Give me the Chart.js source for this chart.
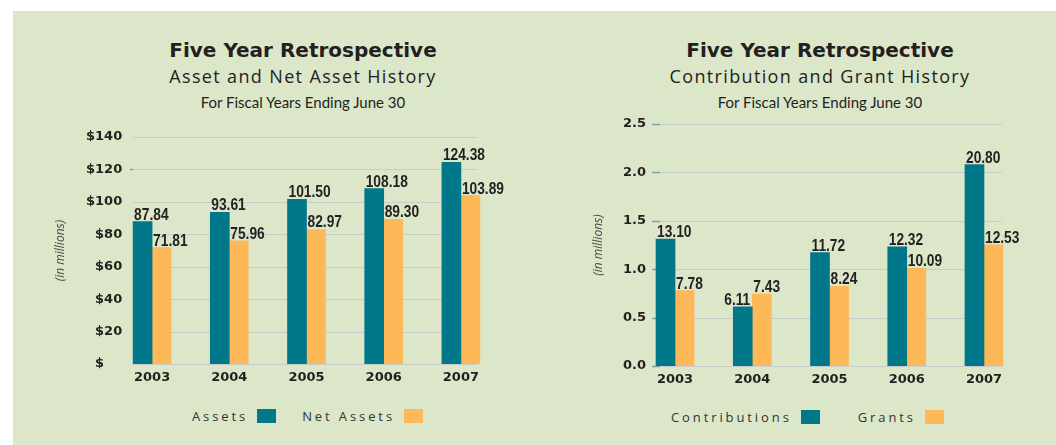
<!DOCTYPE html>
<html>
<head>
<meta charset="utf-8">
<script src="https://cdn.jsdelivr.net/npm/chart.js@4.4.1/dist/chart.umd.min.js"></script>
<style>
  html, body { margin: 0; padding: 0; width: 1056px; height: 445px; overflow: hidden; background: #fff; }
  #panel { position: absolute; left: 13px; top: 11px; right: 0; bottom: 0; background: #dce6c9; }
  .ttl { position: absolute; width: 420px; text-align: center; white-space: nowrap; color: #231f20; line-height: 1; }
  .t1 { font-family: "DejaVu Sans", sans-serif; font-weight: bold; font-size: 20px; }
  .t2 { font-family: "Open Sans", sans-serif; font-weight: 400; font-size: 18px; letter-spacing: 1.35px; }
  .t3 { font-family: Lato, sans-serif; font-weight: 400; font-size: 15px; }
  canvas { position: absolute; }
  .legend { position: absolute; display: flex; align-items: center; font-family: "Open Sans", sans-serif; font-size: 13px; letter-spacing: 2.9px; color: #333; white-space: nowrap; }
  .legend .sw { display: inline-block; width: 19px; height: 14px; margin-left: 9px; }
</style>
</head>
<body>
<div id="panel"></div>

<div class="ttl t1" style="left:93px; top:40px">Five Year Retrospective</div>
<div class="ttl t2" style="left:93px; top:67px">Asset and Net Asset History</div>
<div class="ttl t3" style="left:93px; top:95px">For Fiscal Years Ending June 30</div>

<div class="ttl t1" style="left:610px; top:40px">Five Year Retrospective</div>
<div class="ttl t2" style="left:610px; top:67px">Contribution and Grant History</div>
<div class="ttl t3" style="left:610px; top:95px">For Fiscal Years Ending June 30</div>

<canvas id="assetChart" width="480" height="277" style="left:40px; top:115px"></canvas>
<canvas id="grantChart" width="490" height="294" style="left:560px; top:100px"></canvas>

<div class="legend" id="assetLegend" style="left:192px; top:407px"></div>
<div class="legend" id="grantLegend" style="left:671px; top:408px"></div>

<script>
// --- data ---
const years = ['2003', '2004', '2005', '2006', '2007'];

const assets = [87.84, 93.61, 101.50, 108.18, 124.38];
const netAssets = [71.81, 75.96, 82.97, 89.30, 103.89];
const assetTickLabels = ['$', '$20', '$40', '$60', '$80', '$100', '$120', '$140'];

// bars on this chart are drawn on a 0 - 2.5 axis (labels are value / 10)
const contributions = [13.10, 6.11, 11.72, 12.32, 20.80];
const grants = [7.78, 7.43, 8.24, 10.09, 12.53];
const grantTickLabels = ['0.0', '0.5', '1.0', '1.5', '2.0', '2.5'];

const TEAL = '#00788a';
const ORANGE = '#fdb858';
const INK = '#231f20';
const FIG = '\u2007'; // figure space, same advance as a digit

// right-align tick text with figure spaces (labels are drawn mirrored, left aligned)
function padTick(t, width) {
  if (t.length === 1) t = t + FIG + FIG;
  return t.padStart(width, FIG);
}

/**
 * Draws the horizontal rules only across the inner part of the plot,
 * plus the short teal stubs at the left of some of them
 */
const shortGridPlugin = {
  id: 'shortGrid',
  beforeDatasetsDraw(chart, args, opts) {
    const { ctx } = chart;
    const y = chart.scales.y;
    ctx.save();
    y.ticks.forEach(t => {
      const py = Math.round(y.getPixelForValue(t.value)) + 0.5;
      ctx.strokeStyle = opts.color;
      ctx.lineWidth = 1;
      ctx.beginPath();
      ctx.moveTo(opts.from, py);
      ctx.lineTo(opts.to, py);
      ctx.stroke();
      if (opts.stubs.includes(t.value)) {
        ctx.strokeStyle = opts.stubColor;
        ctx.lineWidth = 1.5;
        ctx.beginPath();
        ctx.moveTo(opts.stubFrom, py);
        ctx.lineTo(opts.from, py);
        ctx.stroke();
      }
    });
    ctx.restore();
  }
};

/**
 * Value labels sitting on top of each bar, condensed bold
 */
const valueLabelPlugin = {
  id: 'valueLabels',
  afterDatasetsDraw(chart, args, opts) {
    const { ctx } = chart;
    const ds = chart.data.datasets;
    ctx.save();
    ctx.font = 'bold 16px "Liberation Sans", Arial, sans-serif';
    ctx.fillStyle = INK;
    ctx.textBaseline = 'alphabetic';
    ds.forEach((set, di) => {
      chart.getDatasetMeta(di).data.forEach((bar, i) => {
        const text = set.labels[i];
        const w = ctx.measureText(text).width * opts.squeeze;
        let x = bar.x - bar.width / 2 + 1;
        // first bar shorter than its neighbour: push its label left so both fit
        if (di === 0 && ds[0].data[i] < ds[1].data[i]) x = bar.x + bar.width / 2 - w - 2;
        ctx.save();
        ctx.translate(x, bar.y - 2);
        ctx.scale(opts.squeeze, 1);
        ctx.fillText(text, 0, 0);
        ctx.restore();
      });
    });
    ctx.restore();
  }
};

class RetrospectiveChart {
  constructor(canvasId, legendId, options) {
    this.canvas = document.getElementById(canvasId);
    this.legend = document.getElementById(legendId);
    this.options = options;
    this.chart = null;
  }

  render(series, tickLabels) {
    const o = this.options;
    const tickFont = { family: '"DejaVu Sans", sans-serif', weight: 'bold', size: 13 };
    const tickWidth = Math.max(...tickLabels.map(t => t.length));

    this.chart = new Chart(this.canvas, {
      type: 'bar',
      data: {
        labels: years,
        datasets: series.map(s => ({
          label: s.label,
          data: s.data,
          labels: s.text,
          backgroundColor: s.color,
          barThickness: 19,
          borderWidth: 0
        }))
      },
      options: {
        responsive: false,
        animation: false,
        layout: { padding: { top: o.padTop, right: o.padRight, left: 0, bottom: 0 } },
        plugins: {
          legend: { display: false },
          tooltip: { enabled: false },
          shortGrid: o.grid,
          valueLabels: { squeeze: 0.86 }
        },
        scales: {
          x: {
            grid: { display: false, drawTicks: false },
            border: { display: false },
            ticks: { color: INK, font: tickFont, padding: 6, maxRotation: 0 },
            afterFit: s => { s.height = 28; }
          },
          y: {
            min: 0,
            max: o.max,
            grid: { display: false, drawTicks: false },
            border: { display: false },
            ticks: {
              stepSize: o.step,
              color: INK,
              font: tickFont,
              mirror: true,
              padding: o.tickPad,
              callback: (v, i) => padTick(tickLabels[i], tickWidth)
            },
            title: {
              display: true,
              text: '(in millions)',
              color: '#4a4a4a',
              font: { family: '"Open Sans", sans-serif', style: 'italic', size: 12 },
              padding: { top: o.titlePad, bottom: 0 }
            },
            afterFit: s => { s.width = o.axisWidth; }
          }
        }
      },
      plugins: [shortGridPlugin, valueLabelPlugin]
    });

    this.buildLegend(o.legendGap);
    return this.chart;
  }

  buildLegend(gap) {
    this.chart.data.datasets.forEach((d, i) => {
      const item = document.createElement('span');
      item.style.display = 'inline-flex';
      item.style.alignItems = 'center';
      if (i > 0) item.style.marginLeft = gap + 'px';
      item.innerHTML = `<span>${d.label}</span><span class="sw" style="background:${d.backgroundColor}"></span>`;
      this.legend.appendChild(item);
    });
  }
}

new RetrospectiveChart('assetChart', 'assetLegend', {
  max: 140, step: 20,
  padTop: 22, padRight: 20.5,
  axisWidth: 73.5, tickPad: -27.5, titlePad: 13,
  legendGap: 26,
  grid: { from: 93, to: 438, color: '#c7cdc9', stubs: [120], stubFrom: 90, stubColor: '#7aa4aa' }
}).render([
  { label: 'Assets', data: assets, text: assets.map(v => v.toFixed(2)), color: TEAL },
  { label: 'Net Assets', data: netAssets, text: netAssets.map(v => v.toFixed(2)), color: ORANGE }
], assetTickLabels);

new RetrospectiveChart('grantChart', 'grantLegend', {
  max: 25, step: 5,
  padTop: 24, padRight: 27.4,
  axisWidth: 76.4, tickPad: -13.4, titlePad: 31,
  legendGap: 38,
  grid: { from: 100, to: 442, color: '#c7cdc9', stubs: [0, 5, 10, 15, 20, 25], stubFrom: 92, stubColor: '#7aa4aa' }
}).render([
  { label: 'Contributions', data: contributions, text: contributions.map(v => v.toFixed(2)), color: TEAL },
  { label: 'Grants', data: grants, text: grants.map(v => v.toFixed(2)), color: ORANGE }
], grantTickLabels);
</script>
</body>
</html>
